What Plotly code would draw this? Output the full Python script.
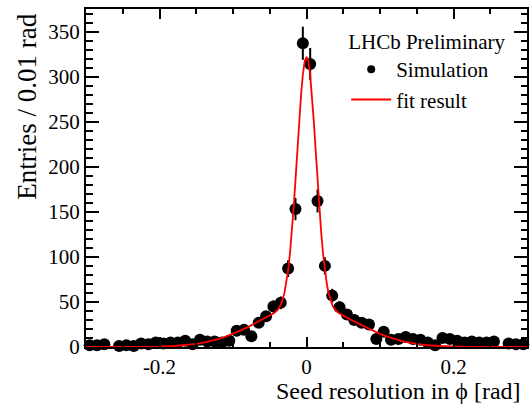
import plotly.graph_objects as go
import numpy as np

# ---- data ----
bin_centers = [-0.295, -0.285, -0.275, -0.265, -0.255, -0.245, -0.235, -0.225, -0.215, -0.205,
               -0.195, -0.185, -0.175, -0.165, -0.155, -0.145, -0.135, -0.125, -0.115, -0.105,
               -0.095, -0.085, -0.075, -0.065, -0.055, -0.045, -0.035, -0.025, -0.015, -0.005,
               0.005, 0.015, 0.025, 0.035, 0.045, 0.055, 0.065, 0.075, 0.085, 0.095,
               0.105, 0.115, 0.125, 0.135, 0.145, 0.155, 0.165, 0.175, 0.185, 0.195,
               0.205, 0.215, 0.225, 0.235, 0.245, 0.255, 0.265, 0.275, 0.285, 0.295]
entries = [2, 2, 3, None, 1, 2, 1, 4, 3, 5,
           4, 5, 5, 7, 3, 8, 6, 6, 5, 7,
           18, 19, 12, 27, 34, 45, 49, 87, 153, 337,
           314, 162, 90, 57, 44, 36, 30, 27, 25, 9,
           17, 8, 9, 11, 9, 8, 5, 2, 10, 9,
           7, 5, 6, 5, 5, 6, None, 4, 3, 3]

fit_x = [-0.30, -0.25, -0.22, -0.20, -0.18, -0.16, -0.15, -0.14, -0.13, -0.12, -0.11, -0.10,
         -0.09, -0.08, -0.07, -0.06, -0.05, -0.045, -0.04, -0.0375, -0.035, -0.0325, -0.03,
         -0.0275, -0.025, -0.0225, -0.02, -0.0175, -0.015, -0.0125, -0.01, -0.0075, -0.005,
         -0.0025, 0.0, 0.0025, 0.005, 0.0075, 0.01, 0.0125, 0.015, 0.0175, 0.02, 0.0225,
         0.025, 0.0275, 0.03, 0.0325, 0.035, 0.0375, 0.04, 0.045, 0.05, 0.06, 0.07, 0.08,
         0.09, 0.10, 0.11, 0.12, 0.13, 0.14, 0.15, 0.16, 0.18, 0.20, 0.22, 0.25, 0.30]
fit_y = [0.0, 0.03, 0.18, 0.47, 1.1, 2.4, 3.5, 4.8, 6.6, 8.8, 11.5, 14.6,
         18.2, 22.1, 26.2, 30.4, 34.7, 37.1, 40.6, 43.1, 47.0, 52.2, 60.0,
         70.7, 85.0, 103.7, 126.9, 154.4, 185.2, 217.8, 249.8, 278.8, 301.9,
         316.9, 322.0, 316.9, 301.9, 278.8, 249.8, 217.8, 185.2, 154.4, 126.9, 103.7,
         85.0, 70.7, 60.0, 52.2, 47.0, 43.1, 40.6, 37.1, 34.7, 30.4, 26.2, 22.1,
         18.2, 14.6, 11.5, 8.8, 6.6, 4.8, 3.5, 2.4, 1.1, 0.47, 0.18, 0.03, 0.0]

x_tick_vals = [-0.2, 0.0, 0.2]
x_tick_text = ["-0.2", "0", "0.2"]

errors = [None if v is None else float(np.sqrt(v)) for v in entries]

FONT = "Liberation Serif"

fig = go.Figure()

fig.add_trace(go.Scatter(
    x=bin_centers, y=entries, mode="markers", name="Simulation", showlegend=False,
    marker=dict(color="black", size=12, symbol="circle"),
    error_y=dict(type="data", array=errors, visible=True, color="black", thickness=2, width=0),
    cliponaxis=False,
))
fig.add_trace(go.Scatter(
    x=fit_x, y=fit_y, mode="lines", name="fit result", showlegend=False,
    line=dict(color="red", width=1.8),
))
# legend entries
fig.add_trace(go.Scatter(x=[None], y=[None], mode="markers", name="Simulation",
                         marker=dict(color="black", size=8)))
fig.add_trace(go.Scatter(x=[None], y=[None], mode="lines", name="fit result",
                         line=dict(color="red", width=2)))

axis_common = dict(
    showline=True, linewidth=2, linecolor="black", mirror="ticks",
    ticks="inside", tickcolor="black", tickwidth=1.5,
    showgrid=False, zeroline=False,
    tickfont=dict(family=FONT, size=21, color="black"),
)

fig.update_xaxes(
    range=[-0.3, 0.3], tickmode="array", tickvals=x_tick_vals, ticktext=x_tick_text,
    ticklen=10,
    minor=dict(tickmode="linear", tick0=0, dtick=0.05, ticklen=5, tickwidth=1.5,
               tickcolor="black", ticks="inside", showgrid=False),
    **axis_common,
)
fig.update_yaxes(
    range=[0, 375], tickmode="linear", tick0=0, dtick=50, ticklen=13,
    minor=dict(tickmode="linear", tick0=0, dtick=10, ticklen=6.5, tickwidth=1.5,
               tickcolor="black", ticks="inside", showgrid=False),
    **axis_common,
)

fig.add_annotation(text="Seed resolution in ϕ [rad]", xref="paper", yref="paper",
                   x=0.991, y=-0.13, xanchor="right", yanchor="middle", showarrow=False,
                   font=dict(family=FONT, size=24, color="black"))
fig.add_annotation(text="Entries / 0.01 rad", xref="paper", yref="paper",
                   x=-0.133, y=0.993, xanchor="center", yanchor="top", showarrow=False,
                   textangle=-90, font=dict(family=FONT, size=27, color="black"))

fig.update_layout(
    width=530, height=408,
    margin=dict(l=86, r=1, t=9, b=61),
    paper_bgcolor="white", plot_bgcolor="white",
    showlegend=True,
    legend=dict(
        x=0.59, y=0.962, xanchor="left", yanchor="top",
        bgcolor="rgba(0,0,0,0)", borderwidth=0,
        font=dict(family=FONT, size=21, color="black"),
        title=dict(text="LHCb Preliminary", side="top",
                   font=dict(family=FONT, size=21, color="black")),
        itemwidth=40, tracegroupgap=0,
    ),
)

fig.write_html("out.html")
